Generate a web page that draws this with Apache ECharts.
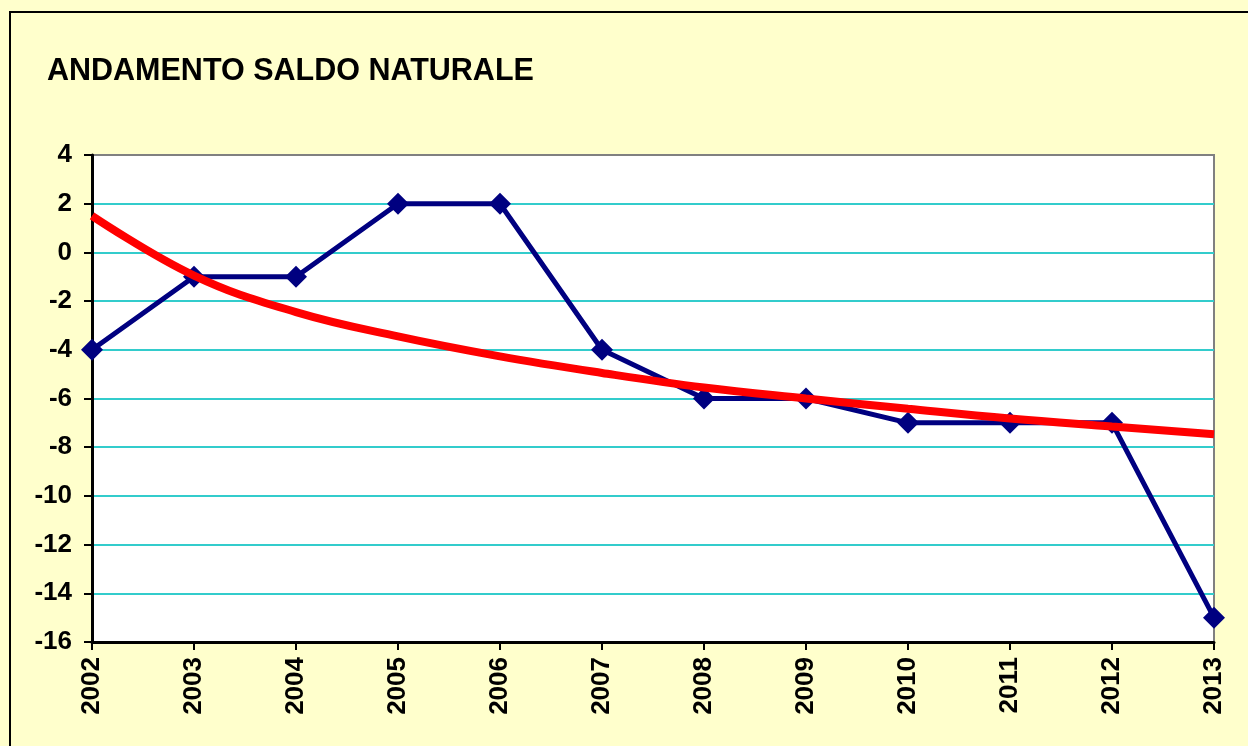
<!DOCTYPE html>
<html>
<head>
<meta charset="utf-8">
<script src="https://cdn.jsdelivr.net/npm/echarts@6/dist/echarts.min.js"></script>
<style>
html,body{margin:0;padding:0;background:#FFFFCC;}
#frame{position:absolute;left:9px;top:11px;width:1260px;height:760px;border:2px solid #000;box-sizing:border-box;}
#chart{position:absolute;left:0;top:0;width:1248px;height:746px;}
</style>
</head>
<body>
<div id="frame"></div>
<div id="chart"></div>
<script>
const years = ['2002','2003','2004','2005','2006','2007','2008','2009','2010','2011','2012','2013'];
const saldo = [-4, -1, -1, 2, 2, -4, -6, -6, -7, -7, -7, -15];
const trend = [1.5, -0.95, -2.45, -3.45, -4.27, -4.95, -5.55, -6.0, -6.42, -6.82, -7.15, -7.47];
const titleText = 'ANDAMENTO SALDO NATURALE';

const gridColors = [];
for (let i = 0; i < 10; i++) gridColors.push('#33CCCC');
gridColors.push('#808080');

const chart = echarts.init(document.getElementById('chart'));
const font = '"Liberation Sans", Arial, sans-serif';
chart.setOption({
  backgroundColor: 'transparent',
  animation: false,
  title: {
    text: titleText, left: 42, top: 51,
    textStyle: { fontFamily: font, fontWeight: 'bold', fontSize: 30.5, color: '#000' }
  },
  grid: {
    left: 92, right: 34, top: 155, bottom: 104,
    show: true, backgroundColor: '#fff', borderColor: '#808080', borderWidth: 2
  },
  xAxis: [{
    type: 'category', data: years, boundaryGap: false,
    axisLine: { onZero: false, lineStyle: { color: '#000', width: 3 } },
    axisTick: { show: true, length: 8, lineStyle: { color: '#000', width: 2 } },
    axisLabel: { rotate: 90, margin: 15, fontFamily: font, fontWeight: 'bold', fontSize: 26, color: '#000' },
    splitLine: { show: false }
  }],
  yAxis: [{
    type: 'value', min: -16, max: 4, interval: 2,
    axisLine: { show: true, lineStyle: { color: '#000', width: 3 } },
    axisTick: { show: true, length: 8, lineStyle: { color: '#000', width: 2 } },
    axisLabel: { margin: 20, fontFamily: font, fontWeight: 'bold', fontSize: 26, color: '#000' },
    splitLine: { show: true, lineStyle: { color: gridColors, width: 2 } }
  }],
  series: [
    {
      type: 'line', data: saldo, z: 3,
      lineStyle: { color: '#000080', width: 5 },
      itemStyle: { color: '#000080' },
      symbol: 'diamond', symbolSize: 22, showSymbol: true
    },
    {
      type: 'line', data: trend, z: 4, smooth: 0.4,
      lineStyle: { color: '#FF0000', width: 8 },
      symbol: 'none'
    }
  ]
});
</script>
</body>
</html>
